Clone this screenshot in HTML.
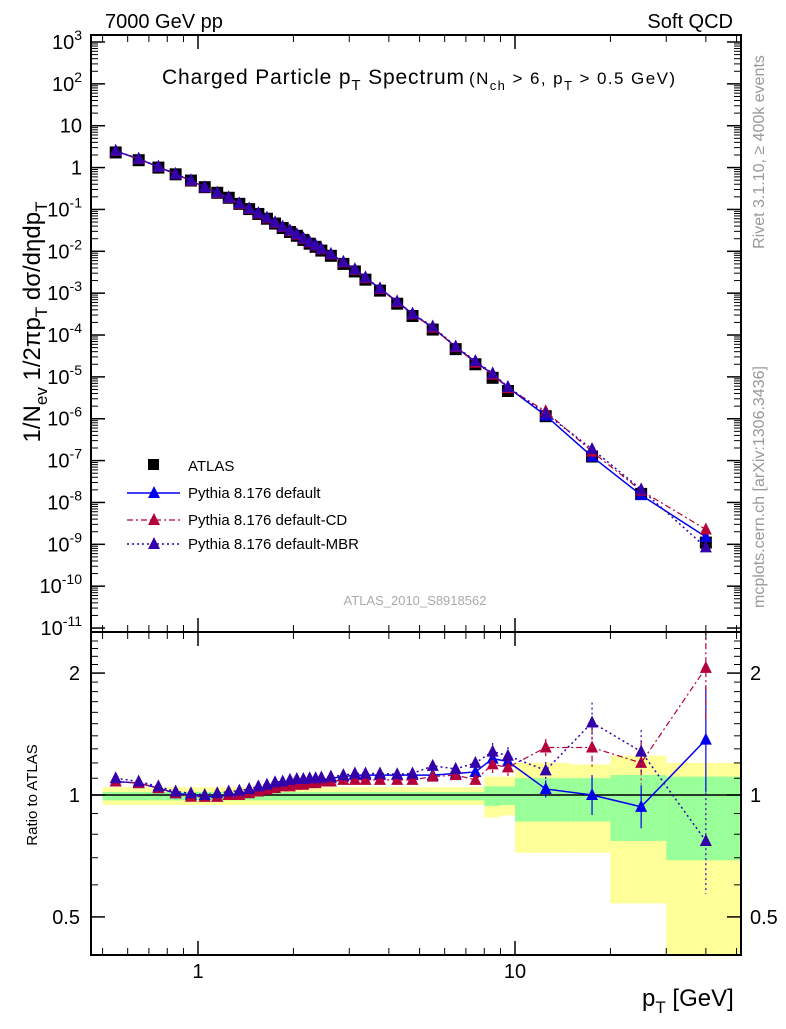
<!DOCTYPE html>
<html><head><meta charset="utf-8"><style>
body{margin:0;background:#fff;}
svg text{font-family:"Liberation Sans",sans-serif;}
</style></head><body>
<svg id="c" width="786" height="1024" xmlns="http://www.w3.org/2000/svg"></svg>
<script>
const ptBins=[0.55,0.65,0.75,0.85,0.95,1.05,1.15,1.25,1.35,1.45,1.55,1.65,1.75,1.85,1.95,2.05,2.15,2.25,2.35,2.45,2.625,2.875,3.125,3.375,3.75,4.25,4.75,5.5,6.5,7.5,8.5,9.5,12.5,17.5,25,40];
const atlasVals=[2.3,1.5,1.0,0.69,0.49,0.34,0.25,0.19,0.136,0.102,0.078,0.060,0.046,0.036,0.029,0.0235,0.0187,0.0152,0.0128,0.0104,0.0078,0.0050,0.0033,0.0021,0.00115,5.6e-4,2.85e-4,1.35e-4,4.6e-5,2.0e-5,9.5e-6,4.6e-6,1.15e-6,1.25e-7,1.6e-8,1.1e-9];
const ratioDefault=[1.08,1.07,1.04,1.01,1.0,0.99,0.99,1.0,1.01,1.02,1.03,1.04,1.05,1.06,1.07,1.075,1.08,1.085,1.09,1.09,1.10,1.11,1.12,1.12,1.12,1.12,1.12,1.12,1.13,1.14,1.23,1.21,1.035,1.0,0.935,1.37];
const ratioCD=[1.08,1.07,1.04,1.01,0.99,0.99,0.99,1.0,1.0,1.01,1.02,1.03,1.04,1.05,1.05,1.06,1.06,1.07,1.07,1.08,1.08,1.09,1.09,1.09,1.09,1.09,1.09,1.11,1.12,1.09,1.19,1.17,1.31,1.31,1.2,2.06];
const ratioMBR=[1.10,1.08,1.05,1.02,1.01,1.0,1.01,1.02,1.025,1.035,1.05,1.06,1.075,1.08,1.09,1.095,1.095,1.10,1.10,1.105,1.11,1.12,1.13,1.13,1.13,1.125,1.13,1.18,1.16,1.2,1.28,1.25,1.15,1.51,1.28,0.77];
const bandEdges=[0.5,8,9,10,15,20,30,52];
const bandYelLo=[0.945,0.88,0.89,0.72,0.72,0.54,0.3];
const bandYelHi=[1.045,1.11,1.11,1.2,1.19,1.25,1.2];
const bandGrnLo=[0.97,0.94,0.945,0.86,0.86,0.77,0.69];
const bandGrnHi=[1.017,1.05,1.05,1.10,1.10,1.12,1.11];
const yTickExp=[3,2,1,0,-1,-2,-3,-4,-5,-6,-7,-8,-9,-10,-11];
const ratioTicks=[0.5,1,2];
const xTickLabels=[1,10];

const NS="http://www.w3.org/2000/svg";
const svg=document.getElementById('c');
function el(t,a,p){const e=document.createElementNS(NS,t);for(const k in a)e.setAttribute(k,a[k]);(p||svg).appendChild(e);return e;}
const L=91,R=741,T=35,M=632,B=955;
const X=v=>198+317*Math.log10(v);
const Y=v=>42+(3-Math.log10(v))*41.86;
const RY=v=>795-405*Math.log10(v);
const clipR=el('clipPath',{id:'cr'});el('rect',{x:L,y:M,width:R-L,height:B-M},clipR);
const clipM=el('clipPath',{id:'cm'});el('rect',{x:L,y:T,width:R-L,height:M-T},clipM);

const gb=el('g',{'clip-path':'url(#cr)'});

for(let i=0;i<bandEdges.length-1;i++){
 const x0=X(bandEdges[i]),x1=X(bandEdges[i+1]);
 const y1=el('rect',{x:x0,y:RY(bandYelHi[i]),width:x1-x0,height:RY(bandYelLo[i])-RY(bandYelHi[i]),fill:'#ffff99'},gb);
 
 const g1=el('rect',{x:x0,y:RY(bandGrnHi[i]),width:x1-x0,height:RY(bandGrnLo[i])-RY(bandGrnHi[i]),fill:'#99ff99'},gb);
 
}
el('line',{x1:L,x2:R,y1:RY(1),y2:RY(1),stroke:'#000','stroke-width':1.5});

function tri(g,x,y,c){el('polygon',{points:`${x-6},${y+5} ${x+6},${y+5} ${x},${y-7}`,fill:c},g);}
const series=[
 {name:'default',r:ratioDefault,c:'#0000ee',dash:'',w:1.5},
 {name:'cd',r:ratioCD,c:'#b5003a',dash:'6,3,2,3',w:1.2},
 {name:'mbr',r:ratioMBR,c:'#3300aa',dash:'2,3',w:1.5},
];
const gm=el('g',{'clip-path':'url(#cm)'});
for(let i=0;i<ptBins.length;i++){
 const s=el('rect',{x:X(ptBins[i])-6,y:Y(atlasVals[i])-6,width:12,height:12,fill:'#000'},gm);
 
}
for(const s of series){
 const g=el('g',{},gm);
 
 el('polyline',{points:ptBins.map((p,i)=>X(p)+','+Y(atlasVals[i]*s.r[i])).join(' '),fill:'none',stroke:s.c,'stroke-width':s.w,'stroke-dasharray':s.dash},g);
 ptBins.forEach((p,i)=>tri(g,X(p),Y(atlasVals[i]*s.r[i]),s.c));
}
const gr=el('g',{'clip-path':'url(#cr)'});
for(const s of series){
 const g=el('g',{},gr);
 
 el('polyline',{points:ptBins.map((p,i)=>X(p)+','+RY(s.r[i])).join(' '),fill:'none',stroke:s.c,'stroke-width':s.w,'stroke-dasharray':s.dash},g);
 ptBins.forEach((p,i)=>{
  if(p>=8){const e=p>30?0.35:p>20?0.13:p>15?0.12:0.05;
   el('line',{x1:X(p),x2:X(p),y1:RY(s.r[i]*(1+e)),y2:RY(s.r[i]/(1+e)),stroke:s.c,'stroke-width':1.2,'stroke-dasharray':s.dash},g);}
  tri(g,X(p),RY(s.r[i]),s.c);});
}
el('rect',{x:L,y:T,width:R-L,height:M-T,fill:'none',stroke:'#000','stroke-width':2});
el('rect',{x:L,y:M,width:R-L,height:B-M,fill:'none',stroke:'#000','stroke-width':2});
yTickExp.forEach(e=>{
 const y=Y(Math.pow(10,e));
 el('line',{x1:L,x2:L+14,y1:y,y2:y,stroke:'#000','stroke-width':1.5});
 el('line',{x1:R-14,x2:R,y1:y,y2:y,stroke:'#000','stroke-width':1.5});
 if(e>-11)for(let m=2;m<10;m++){const yy=Y(m*Math.pow(10,e-1));
  el('line',{x1:L,x2:L+7,y1:yy,y2:yy,stroke:'#000'});el('line',{x1:R-7,x2:R,y1:yy,y2:yy,stroke:'#000'});}
 const t=el('text',{x:82,y:y+7,'text-anchor':'end','font-size':20});
 
 if(e===0)t.textContent='1';else if(e===1)t.textContent='10';
 else{t.textContent='10';const s=el('tspan',{dy:-9,'font-size':14},t);s.textContent=String(e);}
});
for(let v=0.4;v<2.5;v+=0.1){const y=RY(v);if(y<M||y>B)continue;
 const maj=Math.abs(v-0.5)<1e-6||Math.abs(v-1)<1e-6||Math.abs(v-2)<1e-6;
 el('line',{x1:L,x2:L+(maj?14:7),y1:y,y2:y,stroke:'#000','stroke-width':maj?1.5:1});
 el('line',{x1:R-(maj?14:7),x2:R,y1:y,y2:y,stroke:'#000','stroke-width':maj?1.5:1});}
ratioTicks.forEach(v=>{
 const a=el('text',{x:80,y:RY(v)+7,'text-anchor':'end','font-size':20});a.textContent=String(v);
 
 const b=el('text',{x:750,y:RY(v)+7,'font-size':20});b.textContent=String(v);
 
});
for(let d=-1;d<2;d++)for(let m=1;m<10;m++){const v=m*Math.pow(10,d);const x=X(v);if(x<L||x>R)continue;
 const h=m===1?14:7;
 [[B,-1],[M,-1],[M,1],[T,1]].forEach(([y0,s])=>el('line',{x1:x,x2:x,y1:y0,y2:y0+s*h,stroke:'#000','stroke-width':m===1?1.5:1}));}
xTickLabels.forEach(v=>{const t=el('text',{x:X(v),y:978,'text-anchor':'middle','font-size':20});t.textContent=String(v);
 });
</script>
<svg width="786" height="1024" style="position:absolute;left:0;top:0" xmlns="http://www.w3.org/2000/svg">
<text x="105" y="28" font-size="20">7000 GeV pp</text>
<text x="733" y="28" font-size="20" text-anchor="end">Soft QCD</text>
<text x="162" y="84" font-size="21" textLength="302" lengthAdjust="spacing">Charged Particle p<tspan dy="6" font-size="15">T</tspan><tspan dy="-6"> Spectrum</tspan></text>
<text x="469" y="84" font-size="17" textLength="206" lengthAdjust="spacing">(N<tspan dy="6" font-size="13">ch</tspan><tspan dy="-6"> &gt; 6, p</tspan><tspan dy="6" font-size="13">T</tspan><tspan dy="-6"> &gt; 0.5 GeV)</tspan></text>
<text transform="translate(40,322) rotate(-90)" font-size="24" text-anchor="middle">1/N<tspan dy="7" font-size="17">ev</tspan><tspan dy="-7"> 1/2πp</tspan><tspan dy="7" font-size="17">T</tspan><tspan dy="-7"> dσ/dηdp</tspan><tspan dy="7" font-size="17">T</tspan></text>
<text transform="translate(37,795) rotate(-90)" font-size="15" text-anchor="middle">Ratio to ATLAS</text>
<text x="642" y="1006" font-size="24">p<tspan dy="7" font-size="17">T</tspan><tspan dy="-7">  [GeV]</tspan></text>
<text transform="translate(764,152) rotate(-90)" font-size="16" fill="#999" text-anchor="middle">Rivet 3.1.10, ≥ 400k events</text>
<text transform="translate(764,487) rotate(-90)" font-size="16" fill="#999" text-anchor="middle">mcplots.cern.ch [arXiv:1306.3436]</text>
<text x="415" y="605" font-size="13" fill="#aaa" text-anchor="middle">ATLAS_2010_S8918562</text>
<g font-size="15">
<rect x="148" y="459" width="11" height="11" fill="#000"/><text x="188" y="471">ATLAS</text>
<line x1="127" x2="180" y1="493" y2="493" stroke="#0000ee" stroke-width="1.5"/><polygon points="148,498 160,498 154,486" fill="#0000ee"/><text x="188" y="498">Pythia 8.176 default</text>
<line x1="127" x2="180" y1="520" y2="520" stroke="#b5003a" stroke-width="1.2" stroke-dasharray="6,3,2,3"/><polygon points="148,525 160,525 154,513" fill="#b5003a"/><text x="188" y="525">Pythia 8.176 default-CD</text>
<line x1="127" x2="180" y1="544" y2="544" stroke="#3300aa" stroke-width="1.5" stroke-dasharray="2,3"/><polygon points="148,549 160,549 154,537" fill="#3300aa"/><text x="188" y="549">Pythia 8.176 default-MBR</text>
</g>
</svg>
</body></html>
